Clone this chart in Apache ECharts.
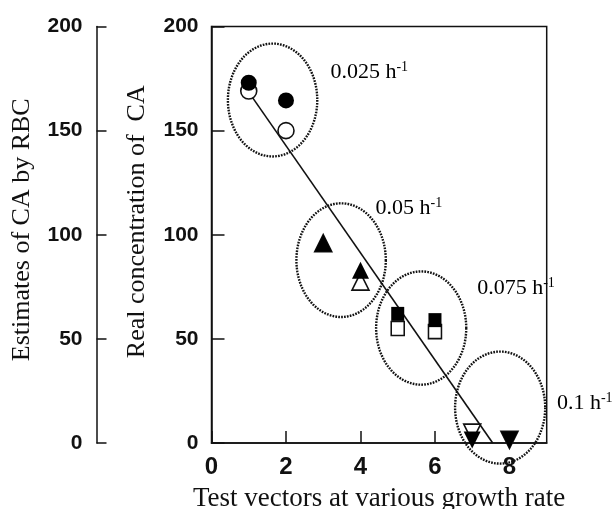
<!DOCTYPE html>
<html>
<head>
<meta charset="utf-8">
<script src="https://cdn.jsdelivr.net/npm/echarts@6/dist/echarts.min.js"></script>
<style>
  html, body { margin: 0; padding: 0; background: #fff; }
  #chart { width: 615px; height: 509px; }
</style>
</head>
<body>
<div id="chart"></div>
<script>
// Test vector index on the x axis
const testVectors = [1, 2, 3, 4, 5, 6, 7, 8];
// Real concentration of CA (filled markers)
const realConcentration = [173, 164.5, 96, 83, 62, 59, 1.5, 1.5];
// Estimates of CA by RBC (open markers)
const rbcEstimates = [169, 150, 96, 77.5, 55, 53.5, 5, 1.5];
// Marker shape per growth-rate group
const groupShapes = ['circle', 'circle', 'triangle', 'triangle', 'rect', 'rect', 'down', 'down'];
// Fitted line end points
const fitLine = [[1, 168.5], [7.55, 0]];
// Growth-rate groups: ellipse centre (x, y) and radii (x, y) in axis units
const groupEllipses = [
  [1.64, 164.7, 1.2, 27.1],
  [3.48, 87.8, 1.2, 27.3],
  [5.63, 55.2, 1.21, 27.2],
  [7.75, 17.0, 1.21, 26.9]
];
// Growth-rate label text and anchor (axis units)
const rateNames = ['0.025 h', '0.05 h', '0.075 h', '0.1 h'];
const rateAnchors = [[3.18, 178], [4.39, 112.7], [7.12, 74.3], [9.26, 19.2]];
const xTickLabels = ['0', '2', '4', '6', '8'];
const yTickLabels = ['0', '50', '100', '150', '200'];

const ink = '#111';

function symbolFor(shape) {
  if (shape === 'down') return { symbol: 'triangle', symbolRotate: 180, symbolSize: [17, 17] };
  if (shape === 'triangle') return { symbol: 'triangle', symbolRotate: 0, symbolSize: [17, 17] };
  if (shape === 'rect') return { symbol: 'rect', symbolRotate: 0, symbolSize: [13, 14] };
  return { symbol: 'circle', symbolRotate: 0, symbolSize: 16 };
}

function markerData(values) {
  return testVectors.map((x, i) => Object.assign({ value: [x, values[i]] }, symbolFor(groupShapes[i])));
}

const chart = echarts.init(document.getElementById('chart'), null, { renderer: 'canvas' });

const tickFont = { fontFamily: 'Liberation Sans, Arial, sans-serif', fontSize: 21, fontWeight: 'bold', color: ink };
const titleFont = { fontFamily: 'Liberation Serif, Times New Roman, serif', fontSize: 26, color: ink };
const serif = 'Liberation Serif, Times New Roman, serif';

chart.setOption({
  backgroundColor: '#fff',
  animation: false,
  grid: {
    left: 211.5, right: 68.3, top: 26.5, bottom: 66,
    containLabel: false, outerBoundsMode: 'none',
    show: true, borderColor: ink, borderWidth: 1.5, backgroundColor: 'transparent'
  },
  xAxis: {
    type: 'value', min: 0, max: 9, interval: 2,
    name: 'Test vectors at various growth rate',
    nameLocation: 'middle', nameGap: 42,
    nameTextStyle: Object.assign({}, titleFont, { fontSize: 27 }),
    axisLine: { show: true, lineStyle: { color: ink, width: 1.5 } },
    axisTick: { show: true, inside: true, length: 12, lineStyle: { color: ink, width: 1.5 } },
    axisLabel: Object.assign({}, tickFont, {
      fontSize: 24, margin: 12, showMaxLabel: false,
      formatter: v => (v % 2 === 0 ? xTickLabels[v / 2] : '')
    }),
    splitLine: { show: false }
  },
  yAxis: [
    {
      type: 'value', min: 0, max: 200, interval: 50, position: 'left',
      name: 'Real concentration of  CA',
      nameLocation: 'middle', nameGap: 61,
      nameTextStyle: Object.assign({}, titleFont, { padding: [0, 0, 0, 26] }),
      axisLine: { show: true, lineStyle: { color: ink, width: 1.5 } },
      axisTick: { show: true, inside: true, length: 13, lineStyle: { color: ink, width: 1.5 } },
      axisLabel: Object.assign({}, tickFont, { margin: 13, formatter: v => yTickLabels[v / 50] }),
      splitLine: { show: false }
    },
    {
      type: 'value', min: 0, max: 200, interval: 50, position: 'left', offset: 115,
      name: 'Estimates of CA by RBC',
      nameLocation: 'middle', nameGap: 61,
      nameTextStyle: Object.assign({}, titleFont, { padding: [0, 0, 0, 10] }),
      axisLine: { show: true, lineStyle: { color: ink, width: 1.5 } },
      axisTick: { show: true, inside: true, length: 10, lineStyle: { color: ink, width: 1.5 } },
      axisLabel: Object.assign({}, tickFont, { margin: 14, formatter: v => yTickLabels[v / 50] }),
      splitLine: { show: false }
    }
  ],
  series: [
    {
      // dotted ellipses around each growth-rate group
      type: 'custom',
      clip: false,
      silent: true,
      data: groupEllipses,
      renderItem: function (params, api) {
        const c = api.coord([api.value(0), api.value(1)]);
        const s = api.size([api.value(2), api.value(3)]);
        const pts = [];
        const n = 120;
        for (let k = 0; k < n; k++) {
          const t = (k / n) * Math.PI * 2;
          pts.push([c[0] + s[0] * Math.cos(t), c[1] + s[1] * Math.sin(t)]);
        }
        return {
          type: 'polygon',
          shape: { points: pts },
          style: { fill: null, stroke: '#111', lineWidth: 2.4, lineDash: [1.7, 1.2] }
        };
      }
    },
    {
      type: 'line',
      data: fitLine,
      showSymbol: false,
      symbol: 'none',
      lineStyle: { color: ink, width: 1.6 },
      z: 3
    },
    {
      name: 'Estimates of CA by RBC',
      type: 'scatter',
      data: markerData(rbcEstimates),
      itemStyle: { color: '#fff', borderColor: ink, borderWidth: 1.6, opacity: 1 },
      clip: false,
      z: 4
    },
    {
      name: 'Real concentration of CA',
      type: 'scatter',
      data: markerData(realConcentration),
      itemStyle: { color: '#000', borderColor: '#000', borderWidth: 0, opacity: 1 },
      clip: false,
      z: 5
    },
    {
      // growth-rate labels
      type: 'scatter',
      clip: false,
      silent: true,
      symbolSize: 1,
      itemStyle: { color: 'rgba(0,0,0,0)', opacity: 1 },
      data: rateAnchors.map((p, i) => ({ value: p, name: rateNames[i] })),
      label: {
        show: true,
        position: 'right',
        distance: 0,
        opacity: 1,
        formatter: p => '{b|' + p.name + '}{s|-1}',
        rich: {
          b: { fontFamily: serif, fontSize: 22, color: '#000', lineHeight: 24 },
          s: { fontFamily: serif, fontSize: 14, color: '#000', lineHeight: 24, verticalAlign: 'top' }
        }
      },
      z: 6
    }
  ]
});
</script>
</body>
</html>
